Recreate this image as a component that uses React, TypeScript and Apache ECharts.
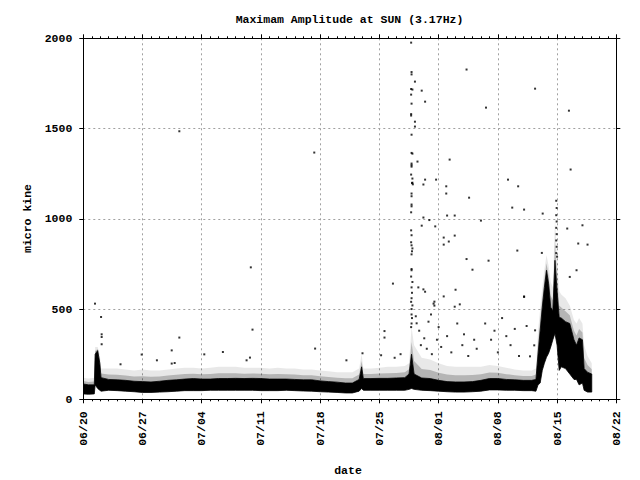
import React, { useEffect, useRef } from "react";
import * as echarts from "echarts";

// x values are days since 06/20 00:00
const tickLabels = ["06/20", "06/27", "07/04", "07/11", "07/18", "07/25", "08/01", "08/08", "08/15", "08/22"];

// dense band of samples: day, core low, core high, upper edge of sparse fringe
const bandDays = [
  0.0, 0.6, 1.3, 1.4, 1.7, 1.95, 2.1, 3, 4, 5, 6, 7, 8, 9, 10, 11, 12, 13, 14, 15, 16, 17, 18, 19, 20, 21, 22, 23, 24,
  25, 26, 27, 28, 29, 30, 31, 31.8, 32.6, 32.9, 33.1, 34, 35, 36, 37, 38, 38.5, 38.8, 39.1, 40, 41, 42, 43, 44, 45,
  46, 47, 48, 49, 50, 51, 52, 53, 53.5, 53.75, 54.0, 54.25, 54.5, 54.75, 55.0, 55.25, 55.5, 55.75, 56.0, 56.25, 56.5,
  57.0, 57.5, 58.0, 58.3, 58.6, 59.0, 59.2, 59.6, 60.1,
];
const coreLow = [
  30, 28, 30, 80, 60, 50, 45, 50, 48, 45, 42, 38, 38, 40, 42, 45, 48, 48, 48, 50, 50, 50, 50, 50, 50, 48, 48, 48, 50,
  48, 46, 45, 42, 40, 38, 35, 35, 45, 60, 50, 50, 50, 50, 50, 50, 55, 60, 55, 50, 48, 45, 42, 40, 40,
  42, 45, 52, 52, 50, 50, 48, 48, 45, 80, 90, 160, 200, 233, 255, 290, 330, 365, 300, 160, 180,
  170, 140, 110, 110, 80, 90, 50, 40, 40,
];
const coreHigh = [
  85, 80, 80, 250, 270, 200, 120, 110, 108, 105, 100, 98, 96, 100, 105, 108, 112, 115, 112, 112, 115, 115, 116, 115, 116, 115, 112, 112, 112,
  110, 108, 108, 102, 98, 95, 90, 90, 110, 180, 115, 115, 116, 116, 118, 120, 140, 250, 140, 118, 115, 105, 98, 96, 96,
  98, 105, 115, 115, 110, 108, 105, 105, 110, 250, 380, 510, 620, 715, 640, 510, 490, 770, 600, 454, 450,
  430, 420, 330, 300, 340, 330, 170, 150, 140,
];
const fringeHigh = [
  120, 115, 120, 290, 290, 250, 170, 170, 170, 165, 160, 165, 160, 160, 165, 170, 175, 175, 170, 175, 180, 180, 180, 175, 175, 175, 170, 175, 170,
  170, 165, 165, 160, 155, 150, 150, 150, 170, 250, 170, 170, 175, 180, 180, 185, 200, 400, 300, 230, 220, 200, 185, 180, 180,
  180, 180, 190, 185, 175, 165, 160, 160, 170, 380, 500, 620, 720, 800, 740, 650, 620, 1000, 800, 600, 580,
  560, 520, 440, 420, 450, 420, 300, 240, 200,
];

// isolated samples outside the dense band
const outlierDays = [
  1.38, 2.1, 2.17, 2.17, 2.17, 4.4, 6.9, 8.7, 10.45, 10.45, 10.8, 11.35, 11.35, 14.3, 16.5, 19.3, 19.7, 19.8, 20.0,
  27.3, 27.4, 31.1, 33.0, 35.2, 35.6, 35.6, 36.6, 36.8, 37.5,
  38.75, 38.8, 38.8, 38.75, 38.9, 38.75, 38.8, 38.75, 38.75, 38.8, 38.8, 38.9, 38.8, 38.8, 38.8, 38.75, 38.9, 38.9,
  38.85, 38.8, 38.8, 38.8, 38.8, 38.75, 38.75, 38.8, 38.75, 38.8, 38.9, 38.85, 38.8, 38.8, 38.8, 38.75, 38.9, 38.8,
  38.85, 38.8, 38.75, 38.9, 38.8, 38.8, 38.85, 38.8, 38.75,
  39.2, 39.2, 39.2, 40.0, 40.4, 39.5, 38.95, 40.4, 40.2, 41.7, 42.9, 45.3, 47.6, 43.3, 50.2, 51.4, 53.4, 57.4, 57.6,
  42.9, 45.6, 50.7, 52.1, 40.2, 43.0, 43.9, 40.9, 41.6, 40.0, 47.0, 42.6, 43.9, 43.2, 42.6, 51.3, 45.3, 47.9, 46.0,
  39.6, 40.4, 40.2, 44.0, 42.6, 52.1, 44.5, 43.9, 41.5, 41.5, 41.4,
  39.4, 39.7, 40.3, 39.9, 40.6, 41.2, 39.3, 40.8, 41.8, 42.3, 43.5, 44.8, 45.5, 46.5, 48.2, 49.0, 50.5, 51.5,
  41.1, 42.0, 43.0, 44.2, 45.0, 46.2, 47.5, 48.6, 49.5, 50.0, 51.0,
  54.3, 57.2, 59.0, 58.5, 59.6, 54.2, 58.3, 57.5, 52.1, 52.4, 53.4, 53.3, 52.8,
  55.9, 55.95, 55.9, 55.95, 55.9, 55.95, 55.9, 55.95, 55.9, 56.0,
];
const outlierValues = [
  530, 456, 360, 345, 305, 194, 248, 216, 271, 198, 201, 342, 1485, 249, 262, 216, 231, 731, 386,
  1367, 281, 216, 255, 244, 378, 342, 641, 230, 250,
  1976, 1813, 1800, 1719, 1716, 1688, 1638, 1580, 1572, 1466, 1365, 1361, 1306, 1297, 1289, 1245, 1223, 1200,
  1198, 1140, 1125, 1079, 1069, 1036, 936, 909, 870, 853, 836, 820, 803, 722, 715, 680, 650, 620,
  590, 560, 540, 520, 500, 470, 450, 420, 400,
  1760, 1538, 1511, 1710, 1649, 1317, 1191, 1217, 1190, 1217, 1180, 1827, 1616, 1328, 1217, 1180, 1721, 1599, 1273,
  1140, 1117, 1062, 1051, 1007, 1018, 1018, 993, 958, 962, 990, 896, 907, 874, 857, 824, 777, 768, 718,
  620, 596, 609, 607, 570, 570, 526, 513, 541, 519, 530,
  421, 380, 338, 300, 280, 250, 460, 430, 330, 290, 260, 300, 240, 280, 330, 260, 300, 240,
  470, 400, 350, 420, 360, 330, 420, 380, 450, 350, 390,
  1029, 946, 964, 863, 857, 811, 715, 678, 567, 406, 382, 299, 238,
  1100, 1060, 1020, 985, 950, 915, 880, 845, 810, 790,
];

const FONT = "'Liberation Mono', 'DejaVu Sans Mono', monospace";

export default function App() {
  const ref = useRef<HTMLDivElement>(null);
  useEffect(() => {
    if (!ref.current) return;
    const chart = echarts.init(ref.current, undefined, { renderer: "svg" });
    const labelStyle = { color: "#000", fontFamily: FONT, fontWeight: "bold" as const, fontSize: 11.5 };
    const gridLine = { show: true, lineStyle: { color: "#a0a0a0", type: [2, 3] as any, width: 1 } };
    const axisLine = { show: true, onZero: false, lineStyle: { color: "#000", width: 1 } };
    const tick = { show: true, inside: false, length: 4, lineStyle: { color: "#000" } };
    const minor = { show: true, splitNumber: 7, length: 2, lineStyle: { color: "#000" } };
    chart.setOption({
      animation: false,
      backgroundColor: "#fff",
      grid: { left: 83.3, top: 38.3, width: 533, height: 361 },
      xAxis: [
        {
          type: "value",
          position: "bottom",
          min: 0,
          max: 63,
          interval: 7,
          axisLine,
          axisTick: tick,
          minorTick: minor,
          axisLabel: {
            ...labelStyle,
            rotate: 90,
            margin: 12,
            formatter: (v: number) => tickLabels[Math.round(v / 7)] ?? "",
          },
          splitLine: gridLine,
        },
        {
          type: "value",
          position: "top",
          min: 0,
          max: 63,
          interval: 7,
          axisLine,
          axisTick: tick,
          minorTick: minor,
          axisLabel: { show: false },
          splitLine: { show: false },
        },
      ],
      yAxis: [
        {
          type: "value",
          position: "left",
          min: 0,
          max: 2000,
          interval: 500,
          axisLine,
          axisTick: tick,
          axisLabel: { ...labelStyle, margin: 11, formatter: (v: number) => String(v) },
          splitLine: gridLine,
        },
        {
          type: "value",
          position: "right",
          min: 0,
          max: 2000,
          interval: 500,
          axisLine,
          axisTick: tick,
          axisLabel: { show: false },
          splitLine: { show: false },
        },
      ],
      graphic: [
        {
          type: "text",
          x: 349.5,
          y: 19,
          style: {
            text: "Maximam Amplitude at SUN (3.17Hz)",
            font: `bold 11.5px ${FONT}`,
            fill: "#000",
            align: "center",
            verticalAlign: "middle",
          },
        },
        {
          type: "text",
          x: 27,
          y: 218.5,
          rotation: Math.PI / 2,
          style: {
            text: "micro kine",
            font: `bold 11.5px ${FONT}`,
            fill: "#000",
            align: "center",
            verticalAlign: "middle",
          },
        },
        {
          type: "text",
          x: 348,
          y: 470,
          style: {
            text: "date",
            font: `bold 11.5px ${FONT}`,
            fill: "#000",
            align: "center",
            verticalAlign: "middle",
          },
        },
      ],
      series: [
        {
          type: "custom",
          clip: true,
          data: bandDays.map((d, i) => [d, coreLow[i], coreHigh[i], fringeHigh[i]]),
          encode: { x: 0, y: [1, 2, 3] },
          renderItem: (params: any, api: any) => {
            if (params.dataIndex !== 0) return null;
            const n = bandDays.length;
            const low: number[][] = [];
            const high: number[][] = [];
            const top: number[][] = [];
            const mid: number[][] = [];
            for (let i = 0; i < n; i++) {
              const l = api.coord([bandDays[i], coreLow[i]]);
              const h = api.coord([bandDays[i], coreHigh[i]]);
              const f = api.coord([bandDays[i], fringeHigh[i]]);
              low.push(l);
              high.push(h);
              top.push(f);
              mid.push([h[0], h[1] + (f[1] - h[1]) * 0.45]);
            }
            const rev = (a: number[][]) => a.slice().reverse();
            return {
              type: "group",
              children: [
                {
                  type: "polygon",
                  shape: { points: [...top, ...rev(high)] },
                  style: { fill: "rgba(0,0,0,0.09)" },
                },
                {
                  type: "polygon",
                  shape: { points: [...mid, ...rev(high)] },
                  style: { fill: "rgba(0,0,0,0.22)" },
                },
                {
                  type: "polygon",
                  shape: { points: [...high, ...rev(low)] },
                  style: { fill: "#000", stroke: "#000", lineWidth: 0.8 },
                },
              ],
            };
          },
        },
        {
          type: "scatter",
          symbol: "rect",
          symbolSize: 2,
          itemStyle: { color: "#000" },
          data: outlierDays.map((d, i) => [d, outlierValues[i]]),
        },
      ],
    });
    return () => chart.dispose();
  }, []);
  return <div ref={ref} style={{ position: "fixed", left: 0, top: 0, width: 640, height: 480, background: "#fff" }} />;
}
